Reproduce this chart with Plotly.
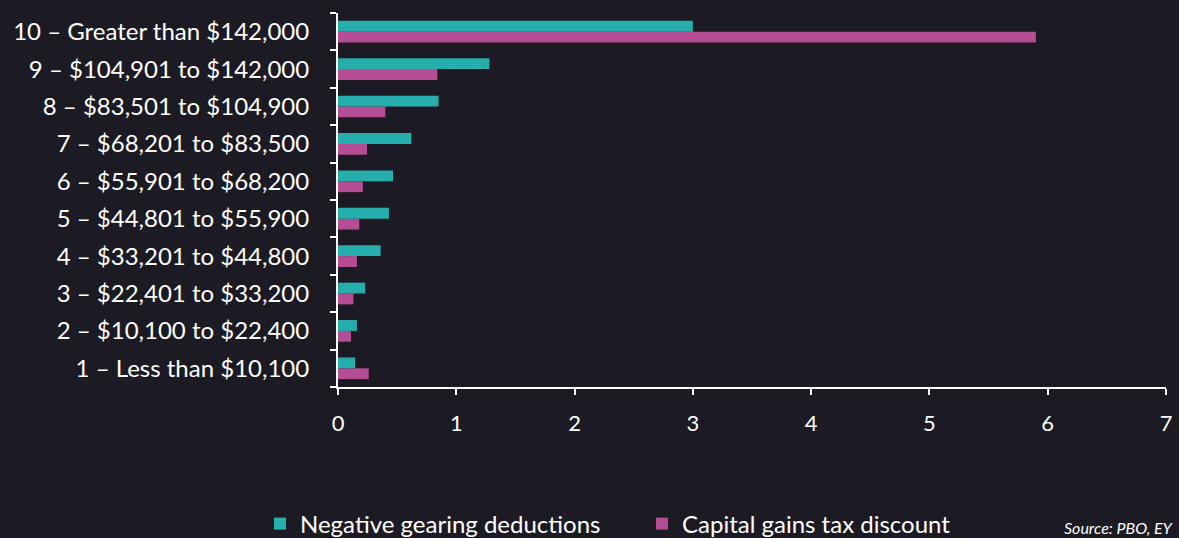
import plotly.graph_objects as go

categories = [
    "1 – Less than $10,100",
    "2 – $10,100 to $22,400",
    "3 – $22,401 to $33,200",
    "4 – $33,201 to $44,800",
    "5 – $44,801 to $55,900",
    "6 – $55,901 to $68,200",
    "7 – $68,201 to $83,500",
    "8 – $83,501 to $104,900",
    "9 – $104,901 to $142,000",
    "10 – Greater than $142,000",
]
negative_gearing = [0.145, 0.16, 0.23, 0.36, 0.43, 0.465, 0.62, 0.85, 1.28, 3.0]
cgt_discount = [0.26, 0.11, 0.13, 0.16, 0.18, 0.21, 0.245, 0.40, 0.84, 5.9]

BG = "#1c1b24"
TEAL = "#26aeac"
MAGENTA = "#b44d93"
FONT = "Lato"

fig = go.Figure()
fig.add_trace(go.Bar(
    y=categories, x=cgt_discount, orientation="h", name="Capital gains tax discount",
    marker=dict(color=MAGENTA, line=dict(width=0)), legend="legend2",
))
fig.add_trace(go.Bar(
    y=categories, x=negative_gearing, orientation="h", name="Negative gearing deductions",
    marker=dict(color=TEAL, line=dict(width=0)), legend="legend",
))

legend_common = dict(orientation="h", xanchor="left", yref="container",
                     y=(538 - 524) / 538, yanchor="middle", xref="container",
                     font=dict(size=24, color="white"),
                     bgcolor="rgba(0,0,0,0)", itemwidth=30)

fig.update_layout(
    width=1179, height=538,
    paper_bgcolor=BG, plot_bgcolor=BG,
    margin=dict(l=338, r=13, t=13, b=151, autoexpand=False),
    barmode="group", bargap=0.42, bargroupgap=0,
    font=dict(family=FONT, color="white", size=22),
    showlegend=True,
    legend=dict(legend_common, x=260 / 1179),
    legend2=dict(legend_common, x=642 / 1179),
    xaxis=dict(range=[0, 7], dtick=1, showgrid=False, zeroline=False,
               showline=True, linecolor="white", linewidth=2, automargin=False,
               ticks="outside", ticklen=6, tickwidth=2, tickcolor="white",
               ticklabelstandoff=10,
               tickfont=dict(size=22, color="white")),
    yaxis=dict(categoryorder="array", categoryarray=categories,
               showgrid=False, zeroline=False, automargin=False,
               showline=True, linecolor="white", linewidth=2,
               ticks="outside", tickson="boundaries", ticklen=6, tickwidth=2,
               tickcolor="white", ticklabelstandoff=22,
               tickfont=dict(size=24, color="white")),
)

fig.add_annotation(
    text="<i>Source: PBO, EY</i>", xref="paper", yref="paper",
    x=(1176 - 338) / 828, xanchor="right",
    y=(387 - 527) / 374, yanchor="middle",
    showarrow=False, font=dict(size=16, color="white", family=FONT),
)

fig.write_html("out.html")
